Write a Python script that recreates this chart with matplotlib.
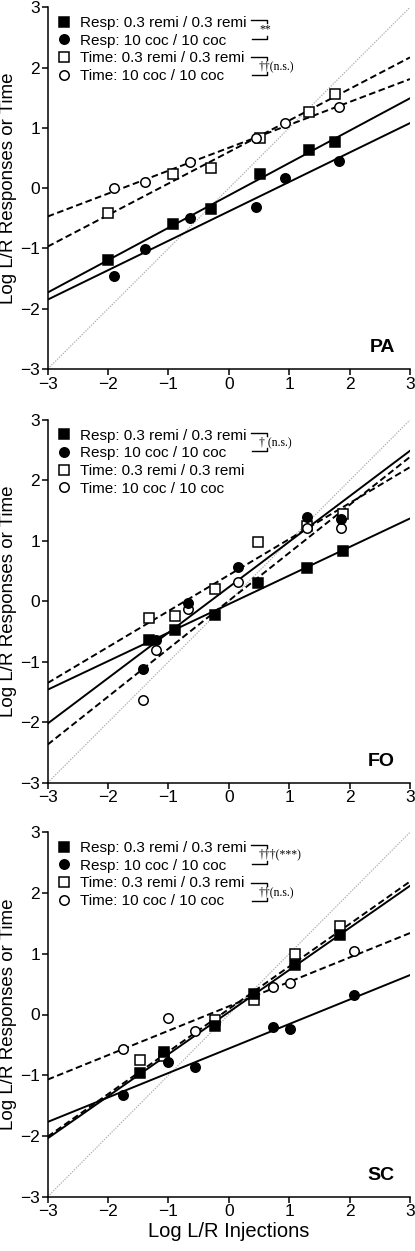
import numpy as np
import matplotlib
matplotlib.use("Agg")
import matplotlib.pyplot as plt
from matplotlib.lines import Line2D

plt.rcParams['font.family'] = ['Liberation Sans', 'DejaVu Sans']

# ---------------- data ----------------
panels = ["PA", "FO", "SC"]
series_labels = ["Resp: 0.3 remi / 0.3 remi", "Resp: 10 coc / 10 coc",
                 "Time: 0.3 remi / 0.3 remi", "Time: 10 coc / 10 coc"]

# PA
pa_x_remi = [-2.00, -0.92, -0.30, 0.52, 1.32, 1.75]
pa_x_coc = [-1.90, -1.39, -0.65, 0.45, 0.93, 1.83]
pa_resp_remi = [-1.19, -0.60, -0.35, 0.23, 0.64, 0.76]
pa_resp_coc = [-1.45, -1.01, -0.50, -0.31, 0.17, 0.45]
pa_time_remi = [-0.41, 0.23, 0.33, 0.83, 1.26, 1.57]
pa_time_coc = [0.00, 0.10, 0.43, 0.84, 1.08, 1.34]
pa_slope = [0.537, 0.488, 0.523, 0.380]
pa_icept = [-0.12, -0.385, 0.60, 0.67]

# FO
fo_x_remi = [-1.32, -0.89, -0.23, 0.49, 1.29, 1.89]
fo_x_coc = [-1.43, -1.20, -0.67, 0.15, 1.29, 1.85]
fo_resp_remi = [-0.64, -0.47, -0.23, 0.30, 0.55, 0.83]
fo_resp_coc = [-1.12, -0.64, -0.03, 0.56, 1.39, 1.37]
fo_time_remi = [-0.27, -0.24, 0.20, 0.98, 1.25, 1.44]
fo_time_coc = [-1.64, -0.81, -0.12, 0.32, 1.21, 1.21]
fo_slope = [0.472, 0.752, 0.595, 0.793]
fo_icept = [-0.045, 0.235, 0.435, 0.01]

# SC
sc_x_remi = [-1.47, -1.08, -0.23, 0.41, 1.09, 1.84]
sc_x_coc = [-1.76, -1.00, -0.56, 0.73, 1.01, 2.08]
sc_resp_remi = [-0.97, -0.61, -0.19, 0.33, 0.82, 1.31]
sc_resp_coc = [-1.32, -0.78, -0.87, -0.20, -0.24, 0.32]
sc_time_remi = [-0.75, -0.69, -0.09, 0.24, 0.99, 1.45]
sc_time_coc = [-0.56, -0.05, -0.27, 0.46, 0.52, 1.04]
sc_slope = [0.693, 0.403, 0.700, 0.402]
sc_icept = [0.04, -0.56, 0.09, 0.135]

ticks = [-3, -2, -1, 0, 1, 2, 3]

panel_data = [
    (pa_x_remi, pa_x_coc, [pa_resp_remi, pa_resp_coc, pa_time_remi, pa_time_coc], pa_slope, pa_icept),
    (fo_x_remi, fo_x_coc, [fo_resp_remi, fo_resp_coc, fo_time_remi, fo_time_coc], fo_slope, fo_icept),
    (sc_x_remi, sc_x_coc, [sc_resp_remi, sc_resp_coc, sc_time_remi, sc_time_coc], sc_slope, sc_icept),
]
# significance annotations: (pair index 0 = Resp rows, 1 = Time rows, text)
annotations = [
    [(0, "**"), (1, "††(n.s.)")],
    [(0, "† (n.s.)")],
    [(0, "†††(***)"), (1, "††(n.s.)")],
]

# ---------------- styling ----------------
W, H = 415, 1251
fig = plt.figure(figsize=(W / 100, H / 100), dpi=100)

ax_left = 47.7 / W
ax_w = 362.3 / W
tops = [7.3, 420.0, 832.3]
bottoms = [369.0, 782.7, 1196.7]

markers = ['s', 'o', 's', 'o']
fills = ['black', 'black', 'white', 'white']
msizes = [7.0, 6.8, 7.0, 6.8]
styles = ['-', '-', (0, (3.4, 1.8)), (0, (3.4, 1.8))]
row_y = [2.79, 2.48, 2.17, 1.87]

for i, (xr, xc, ys, slopes, icepts) in enumerate(panel_data):
    b = 1 - bottoms[i] / H
    h = (bottoms[i] - tops[i]) / H
    ax = fig.add_axes([ax_left, b, ax_w, h])
    ax.set_xlim(-3, 3)
    ax.set_ylim(-3, 3)
    for s in ['top', 'right']:
        ax.spines[s].set_visible(False)
    for s in ['left', 'bottom']:
        ax.spines[s].set_linewidth(1.1)
    ax.set_xticks(ticks)
    ax.set_yticks(ticks)
    ax.tick_params(direction='out', length=4, width=1.1, labelsize=12.5, pad=1.5)
    ax.set_ylabel("Log L/R Responses or Time", fontsize=13.5, labelpad=2)

    # identity line
    ax.plot([-3, 3], [-3, 3], linestyle=(0, (1.2, 1.2)), color='#a8a8a8', lw=0.8, zorder=1)

    xs_list = [xr, xc, xr, xc]
    xl = np.array([-3.0, 3.0])
    for k in range(4):
        ax.plot(xl, icepts[k] + slopes[k] * xl, color='black', lw=1.4,
                linestyle=styles[k], zorder=2)
    for k in range(4):
        ax.plot(xs_list[k], ys[k], linestyle='none', marker=markers[k],
                markersize=msizes[k], markerfacecolor=fills[k],
                markeredgecolor='black', markeredgewidth=1.1, zorder=3 + (k < 2))

    handles = [Line2D([], [], linestyle='none', marker=markers[k], markersize=msizes[k],
                      markerfacecolor=fills[k], markeredgecolor='black',
                      markeredgewidth=1.1) for k in range(4)]
    ax.legend(handles, series_labels, loc='upper left', bbox_to_anchor=(0.012, 0.993),
              frameon=False, fontsize=11, handlelength=0.8, handletextpad=0.6,
              labelspacing=0.24, borderaxespad=0.0)

    # significance brackets
    for pair, txt in annotations[i]:
        y1 = row_y[2 * pair]
        y2 = row_y[2 * pair + 1]
        ax.plot([0.36, 0.63, 0.63], [y1, y1, y1 - 0.05], color='black', lw=1.0, zorder=5)
        ax.plot([0.38, 0.63, 0.63], [y2, y2, y2 + 0.05], color='black', lw=1.0, zorder=5)
        ax.text(0.50, (y1 + y2) / 2, txt, fontsize=8.5, family=['Liberation Serif', 'DejaVu Serif'],
                ha='left', va='center')

    ax.text(2.75, -2.72, panels[i], fontsize=14, fontweight='bold', ha='right', va='baseline')

    if i == 2:
        ax.set_xlabel("Log L/R Injections", fontsize=14.5, labelpad=2)

fig.savefig("out.png", dpi=100)
